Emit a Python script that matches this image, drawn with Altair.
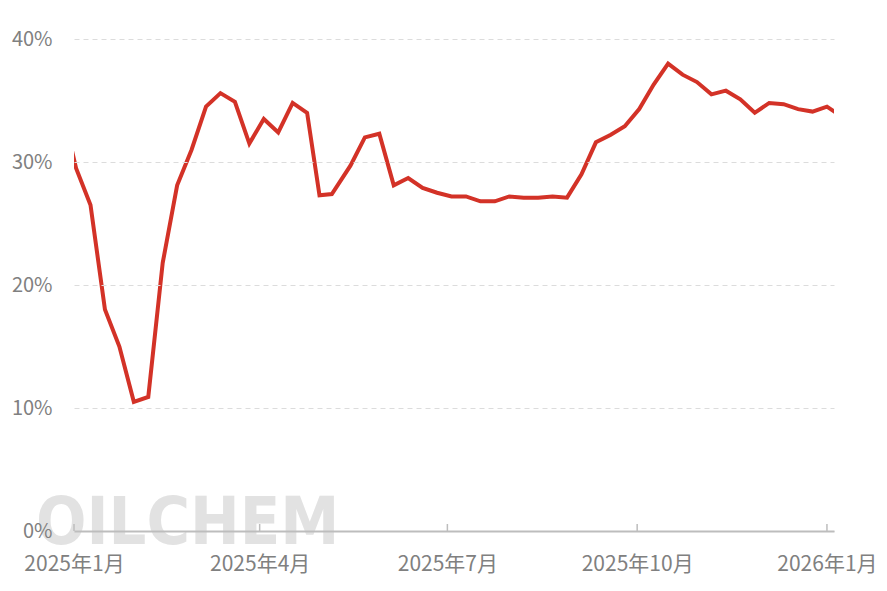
import altair as alt
import pandas as pd

dates = [
    "2024-12-26", "2025-01-02", "2025-01-09", "2025-01-16", "2025-01-23", "2025-01-30",
    "2025-02-06", "2025-02-13", "2025-02-20", "2025-02-27", "2025-03-06", "2025-03-13",
    "2025-03-20", "2025-03-27", "2025-04-03", "2025-04-10", "2025-04-17", "2025-04-24",
    "2025-04-30", "2025-05-06", "2025-05-15", "2025-05-22", "2025-05-29", "2025-06-05",
    "2025-06-12", "2025-06-19", "2025-06-26", "2025-07-03", "2025-07-10", "2025-07-17",
    "2025-07-24", "2025-07-31", "2025-08-07", "2025-08-14", "2025-08-21", "2025-08-28",
    "2025-09-04", "2025-09-11", "2025-09-18", "2025-09-25", "2025-10-02", "2025-10-09",
    "2025-10-16", "2025-10-23", "2025-10-30", "2025-11-06", "2025-11-13", "2025-11-20",
    "2025-11-27", "2025-12-04", "2025-12-11", "2025-12-18", "2025-12-25", "2026-01-01",
    "2026-01-08",
]
values = [
    34.5, 29.5, 26.5, 18.0, 15.0, 10.5,
    10.9, 21.8, 28.1, 31.0, 34.5, 35.6,
    34.9, 31.5, 33.5, 32.4, 34.8, 34.0,
    27.3, 27.4, 29.7, 32.0, 32.3, 28.1,
    28.7, 27.9, 27.5, 27.2, 27.2, 26.8,
    26.8, 27.2, 27.1, 27.1, 27.2, 27.1,
    29.0, 31.6, 32.2, 32.9, 34.3, 36.3,
    38.0, 37.1, 36.5, 35.5, 35.8, 35.1,
    34.0, 34.8, 34.7, 34.3, 34.1, 34.5,
    33.7,
]
tick_dates = ["2025-01-01", "2025-04-01", "2025-07-01", "2025-10-01", "2026-01-01"]
y_ticks = [0, 10, 20, 30, 40]
watermark = "OILCHEM"

df = pd.DataFrame({"date": pd.to_datetime(dates), "value": values})
ticks_df = pd.DataFrame({"date": pd.to_datetime(tick_dates)})
tick_ms = [int(v) for v in pd.to_datetime(tick_dates).astype("int64") // 10**6]

W, H = 760, 492
FONT = "Noto Sans CJK SC"

x_scale = alt.Scale(domain=["2025-01-01T00:00:00", "2026-01-04T10:00:00"], nice=False)
y_scale = alt.Scale(domain=[0, 40], nice=False)

wm = alt.Chart(pd.DataFrame({"t": [watermark]})).mark_text(
    font="'DejaVu Sans Condensed', 'Liberation Sans', sans-serif", fontWeight="bold",
    fontSize=66, align="left", baseline="alphabetic", color="#e2e2e2"
).encode(x=alt.value(-38), y=alt.value(505), text="t:N")

line = alt.Chart(df).mark_line(
    color="#d33227", strokeWidth=4, clip=True, strokeJoin="miter"
).encode(
    x=alt.X("date:T", scale=x_scale,
            axis=alt.Axis(values=tick_ms,
                          labelExpr="timeFormat(datum.value, '%Y') + '年' + (month(datum.value)+1) + '月'",
                          title=None, grid=False, ticks=False, zindex=1,
                          domainColor="#bdbdbd", domainWidth=2,
                          labelColor="#808080", labelFont=FONT, labelFontSize=21,
                          labelPadding=22, labelFlush=False)),
    y=alt.Y("value:Q", scale=y_scale,
            axis=alt.Axis(values=y_ticks, title=None, domain=False, ticks=False,
                          labelExpr="datum.value + '%'", zindex=1,
                          gridColor="#dcdcdc", gridDash=[5, 4], gridWidth=1,
                          labelColor="#808080", labelFont=FONT, labelFontSize=20,
                          labelPadding=22)),
)

tick_marks = alt.Chart(ticks_df).mark_rule(color="#bdbdbd", strokeWidth=1.5).encode(
    x=alt.X("date:T", scale=x_scale),
    y=alt.value(H - 7),
    y2=alt.value(H),
)

chart = alt.layer(wm, line, tick_marks).properties(
    width=W, height=H,
    autosize=alt.AutoSizeParams(type="none"),
    padding={"left": 66, "top": 31, "right": 45, "bottom": 52},
).configure_view(stroke=None)

chart.save("out.html", embed_options={"renderer": "svg", "actions": False})
